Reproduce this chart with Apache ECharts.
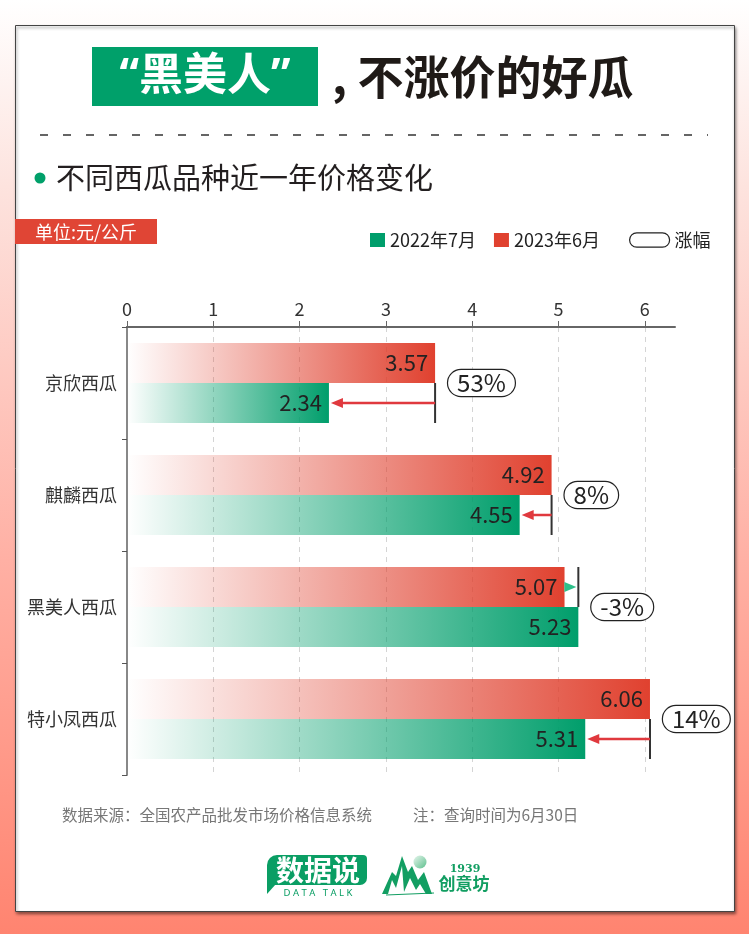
<!DOCTYPE html>
<html><head><meta charset="utf-8">
<script src="https://cdn.jsdelivr.net/npm/echarts@6/dist/echarts.min.js"></script>
<style>html,body{margin:0;padding:0;background:#fff}#c{width:749px;height:934px}</style>
</head><body><div id="c"></div>
<script>
// ---- data ----
const categories = ['京欣西瓜', '麒麟西瓜', '黑美人西瓜', '特小凤西瓜'];
const price2023 = [3.57, 4.92, 5.07, 6.06];
const price2022 = [2.34, 4.55, 5.23, 5.31];
const changeLabels = ['53%', '8%', '-3%', '14%'];
const xTickValues = [0, 1, 2, 3, 4, 5, 6];
const seriesNames = ['2022年7月', '2023年6月', '涨幅'];

// ---- style ----
const FF = "'Noto Sans CJK SC','Noto Sans',sans-serif";
const GREEN = '#009E6B';
const RED = '#E0412F';
const RED_ARROW = '#E0393E';
const GREEN_ARROW = '#2DC08A';
const BAR_W = 40;

const chart = echarts.init(document.getElementById('c'), null, {renderer: 'canvas'});

function grad(color) {
  return {type: 'linear', x: 0, y: 0, x2: 1, y2: 0, colorStops: [
    {offset: 0, color: echarts.color.modifyAlpha(color, 0)},
    {offset: 1, color: echarts.color.modifyAlpha(color, 1)}
  ]};
}

const option = {
  animation: false,
  backgroundColor: {
    type: 'linear', x: 0, y: 0, x2: 0, y2: 1,
    colorStops: [
      {offset: 0, color: '#ffffff'},
      {offset: 0.2, color: '#fde3de'},
      {offset: 0.6, color: '#ffb0a4'},
      {offset: 1, color: '#ff8470'}
    ]
  },
  textStyle: {fontFamily: FF},
  graphic: [
    {type: 'rect', z: -10, shape: {x: 15.5, y: 25.5, width: 719, height: 886},
      style: {fill: '#fff', stroke: '#444', lineWidth: 1, shadowBlur: 3, shadowOffsetY: 2, shadowOffsetX: 1, shadowColor: 'rgba(0,0,0,0.45)'}},
    {type: 'rect', shape: {x: 92, y: 47, width: 226, height: 59}, style: {fill: '#00A06A'}},
    {type: 'text', x: 205, y: 77, style: {text: '“黑美人”', fill: '#fff', font: "bold 44px 'Noto Sans','Noto Sans CJK SC',sans-serif", align: 'center', verticalAlign: 'middle'}},
    {type: 'text', x: 332, y: 77, style: {text: ', 不涨价的好瓜', fill: '#1f1a17', font: "bold 46px 'Noto Sans CJK SC',sans-serif", align: 'left', verticalAlign: 'middle'}},
    {type: 'line', shape: {x1: 40, y1: 135, x2: 708, y2: 135}, style: {stroke: '#333', lineWidth: 1.5, lineDash: [8, 15]}},
    {type: 'circle', shape: {cx: 40, cy: 178, r: 5.5}, style: {fill: '#00A06A'}},
    {type: 'text', x: 56, y: 178, style: {text: '不同西瓜品种近一年价格变化', fill: '#231f20', font: "29px 'Noto Sans CJK SC',sans-serif", align: 'left', verticalAlign: 'middle'}},
    {type: 'rect', shape: {x: 15, y: 219, width: 142, height: 25}, style: {fill: '#E04535'}},
    {type: 'text', x: 86, y: 232, style: {text: '单位:元/公斤', fill: '#fff', font: "18px 'Noto Sans CJK SC',sans-serif", align: 'center', verticalAlign: 'middle'}},
    {type: 'text', x: 62, y: 815, style: {text: '数据来源：全国农产品批发市场价格信息系统', fill: '#777', font: "15.5px 'Noto Sans CJK SC',sans-serif", align: 'left', verticalAlign: 'middle'}},
    {type: 'text', x: 413, y: 815, style: {text: '注：查询时间为6月30日', fill: '#777', font: "15.5px 'Noto Sans CJK SC',sans-serif", align: 'left', verticalAlign: 'middle'}},
    // logo 1
    {type: 'rect', shape: {x: 267, y: 855, width: 100, height: 30, r: [10, 4, 7, 0]}, style: {fill: '#0A9E64'}},
    {type: 'polygon', shape: {points: [[267, 884], [267, 894], [276, 884]]}, style: {fill: '#0A9E64'}},
    {type: 'text', x: 318, y: 870, style: {text: '数据说', fill: '#fff', font: "bold 28px 'Noto Sans CJK SC',sans-serif", align: 'center', verticalAlign: 'middle'}},
    {type: 'text', x: 318, y: 893, style: {text: 'D A T A   T A L K', fill: '#0A9E64', font: "9.5px 'Noto Sans',sans-serif", align: 'center', verticalAlign: 'middle'}},
    // logo 2
    {type: 'polygon', shape: {points: [[382, 894], [392, 872], [396, 876], [402, 856], [408, 872], [412, 866], [418, 880], [424, 872], [432, 894], [426, 894], [420, 884], [416, 890], [410, 878], [404, 892], [402, 866], [396, 888], [392, 880], [388, 894]]}, style: {fill: '#129E62'}},
    {type: 'circle', shape: {cx: 420, cy: 862, r: 6.5}, style: {fill: {type: 'linear', x: 0, y: 0, x2: 1, y2: 1, colorStops: [{offset: 0, color: '#e8f6ee'}, {offset: 1, color: '#5cbf8c'}]}}},
    {type: 'line', shape: {x1: 386, y1: 895, x2: 434, y2: 893}, style: {stroke: '#129E62', lineWidth: 1}},
    {type: 'text', x: 465, y: 869, style: {text: '1939', fill: '#129E62', font: "bold 11px 'DejaVu Serif',serif", align: 'center', verticalAlign: 'middle'}},
    {type: 'text', x: 464, y: 884, style: {text: '创意坊', fill: '#129E62', font: "bold 17px 'Noto Sans CJK SC',sans-serif", align: 'center', verticalAlign: 'middle'}}
  ],
  legend: [
    {
      data: [{name: seriesNames[0], itemStyle: {color: GREEN}}, {name: seriesNames[1], itemStyle: {color: RED}}],
      left: 365, top: 226, icon: 'rect', itemWidth: 15, itemHeight: 14, itemGap: 18,
      selectedMode: false,
      textStyle: {fontSize: 18, color: '#222', fontFamily: FF}
    },
    {
      data: [{name: seriesNames[2], icon: 'path://M7.5,0.5H32.5A7,7,0,0,1,32.5,14.5H7.5A7,7,0,0,1,7.5,0.5Z', itemStyle: {color: '#fff', borderColor: '#222', borderWidth: 1.2}}],
      left: 624, top: 226, itemWidth: 40, itemHeight: 15, selectedMode: false,
      textStyle: {fontSize: 18, color: '#222', fontFamily: FF}
    }
  ],
  grid: {left: 127, top: 327, width: 548, height: 448, containLabel: false},
  xAxis: {
    type: 'value', position: 'top', min: 0, max: 6.35, interval: 1,
    axisLine: {show: true, lineStyle: {color: '#666', width: 2}},
    axisTick: {show: true, length: 6, customValues: xTickValues, lineStyle: {color: '#666', width: 1}},
    axisLabel: {customValues: xTickValues, fontSize: 18, color: '#333', margin: 9, fontFamily: FF},
    splitLine: {show: true, lineStyle: {type: [5, 5], color: '#d4d4d4', width: 1}}
  },
  yAxis: {
    type: 'category', data: categories, inverse: true,
    axisLine: {show: true, lineStyle: {color: '#888', width: 2}},
    axisTick: {show: true, length: 5, lineStyle: {color: '#555', width: 1}},
    axisLabel: {fontSize: 18, color: '#333', margin: 10, fontFamily: FF},
    splitLine: {show: false}
  },
  series: [
    {
      name: seriesNames[1], type: 'bar', data: price2023, barWidth: BAR_W, barGap: '0%',
      itemStyle: {color: grad(RED)},
      label: {show: true, position: 'insideRight', distance: 7, fontSize: 22, color: '#222', fontFamily: FF, formatter: p => p.value.toFixed(2)}
    },
    {
      name: seriesNames[0], type: 'bar', data: price2022, barWidth: BAR_W, barGap: '0%',
      itemStyle: {color: grad(GREEN)},
      label: {show: true, position: 'insideRight', distance: 7, fontSize: 22, color: '#222', fontFamily: FF, formatter: p => p.value.toFixed(2)}
    },
    {
      name: seriesNames[2], type: 'custom', z: 5, clip: false,
      data: categories.map((c, i) => [i, price2023[i], price2022[i]]),
      encode: {x: [1, 2], y: 0},
      renderItem: function (params, api) {
        const i = api.value(0);
        const v23 = api.value(1), v22 = api.value(2);
        const yC = api.coord([0, i])[1];
        const xR = api.coord([v23, i])[0];
        const xG = api.coord([v22, i])[0];
        const up = v23 >= v22;
        const lineX = up ? xR : xG;
        const rowTop = up ? yC : yC - BAR_W;
        const ay = rowTop + BAR_W / 2;
        const children = [];
        children.push({type: 'line', shape: {x1: lineX, y1: rowTop, x2: lineX, y2: rowTop + BAR_W}, style: {stroke: '#333', lineWidth: 2}});
        if (up) {
          const tip = xG + 2;
          children.push({type: 'line', shape: {x1: lineX, y1: ay, x2: tip + 10, y2: ay}, style: {stroke: RED_ARROW, lineWidth: 2.5}});
          children.push({type: 'polygon', shape: {points: [[tip, ay], [tip + 12, ay - 5], [tip + 12, ay + 5]]}, style: {fill: RED_ARROW}});
        } else {
          const tip = lineX - 2;
          const start = xR + 2;
          if (tip - 12 > start) {
            children.push({type: 'line', shape: {x1: start, y1: ay, x2: tip - 10, y2: ay}, style: {stroke: GREEN_ARROW, lineWidth: 2.5}});
          }
          children.push({type: 'polygon', shape: {points: [[tip, ay], [tip - 12, ay - 5], [tip - 12, ay + 5]]}, style: {fill: GREEN_ARROW}});
        }
        children.push({
          type: 'text', x: Math.max(xR, xG) + 13, y: yC,
          style: {
            text: changeLabels[i], fontSize: 24, fontFamily: FF, fill: '#222',
            align: 'left', verticalAlign: 'middle',
            padding: [1, 9, 1, 9], borderColor: '#222', borderWidth: 1.2, borderRadius: 15, backgroundColor: '#fff'
          }
        });
        return {type: 'group', children: children};
      }
    }
  ]
};
chart.setOption(option);
</script>
</body></html>
